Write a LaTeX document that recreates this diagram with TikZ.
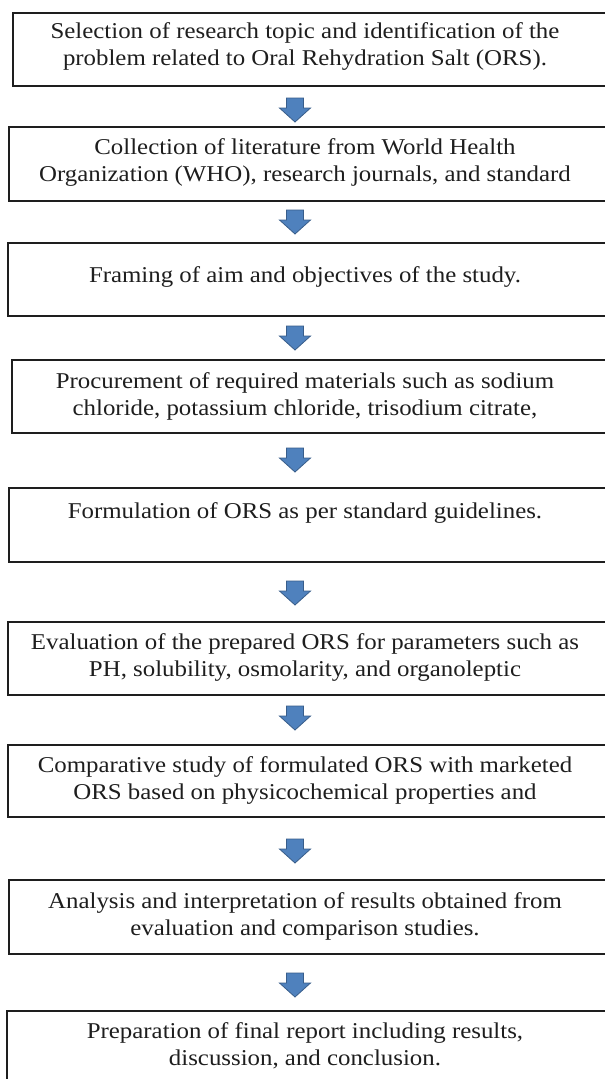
\documentclass[tikz,border=0pt]{standalone}
\usepackage{fontspec}
\setmainfont{Liberation Serif}[FakeStretch=1.1]
\definecolor{arrowfill}{RGB}{79,129,189}
\definecolor{arrowline}{RGB}{56,93,138}
\definecolor{inkcol}{RGB}{30,30,30}
\tikzset{
  box/.style={draw=inkcol, line width=1.3pt, rectangle, inner sep=0pt},
  txt/.style={align=center, font=\fontsize{22.6}{27}\selectfont, text=inkcol, inner sep=0pt},
  darrow/.pic={\path[fill=arrowfill, draw=arrowline, line width=0.8pt, line join=miter]
     (-8.5,-12) -- (8.5,-12) -- (8.5,-2) -- (15.5,-2) -- (0,12) -- (-15.5,-2) -- (-8.5,-2) -- cycle;}
}
\begin{document}
\begin{tikzpicture}[x=1pt,y=-1pt]
\useasboundingbox (0,0) rectangle (605,1079);
\fill[white] (0,0) rectangle (605,1079);
% boxes
\node[box, minimum width=599pt, minimum height=73pt] (b1) at (312.5,49.5) {};
\node[box, minimum width=603pt, minimum height=74pt] (b2) at (310.5,164) {};
\node[box, minimum width=604pt, minimum height=73pt] (b3) at (310,279.5) {};
\node[box, minimum width=600pt, minimum height=73pt] (b4) at (312,396.5) {};
\node[box, minimum width=603pt, minimum height=74pt] (b5) at (310.5,525) {};
\node[box, minimum width=604pt, minimum height=73pt] (b6) at (310,658.5) {};
\node[box, minimum width=604pt, minimum height=72pt] (b7) at (310,781) {};
\node[box, minimum width=603pt, minimum height=74pt] (b8) at (310.5,917) {};
\node[box, minimum width=605pt, minimum height=79pt] (b9) at (309.5,1050.5) {};
% texts
\node[txt] (t1) at (305,46) {Selection of research topic and identification of the\\problem related to Oral Rehydration Salt (ORS).};
\node[txt] (t2) at (305,162) {Collection of literature from World Health\\Organization (WHO), research journals, and standard};
\node[txt] (t3) at (305,277) {Framing of aim and objectives of the study.};
\node[txt] (t4) at (305,396) {Procurement of required materials such as sodium\\chloride, potassium chloride, trisodium citrate,};
\node[txt] (t5) at (305,513) {Formulation of ORS as per standard guidelines.};
\node[txt] (t6) at (305,657.5) {Evaluation of the prepared ORS for parameters such as\\PH, solubility, osmolarity, and organoleptic};
\node[txt] (t7) at (305,780) {Comparative study of formulated ORS with marketed\\ORS based on physicochemical properties and};
\node[txt] (t8) at (305,916.5) {Analysis and interpretation of results obtained from\\evaluation and comparison studies.};
\node[txt] (t9) at (305,1045.5) {Preparation of final report including results,\\discussion, and conclusion.};
% block arrows
\pic (a1) at (295,110) {darrow};
\pic (a2) at (295,222) {darrow};
\pic (a3) at (295,338) {darrow};
\pic (a4) at (295,460) {darrow};
\pic (a5) at (295,593) {darrow};
\pic (a6) at (295,718) {darrow};
\pic (a7) at (295,851) {darrow};
\pic (a8) at (295,985) {darrow};
\end{tikzpicture}
\end{document}
